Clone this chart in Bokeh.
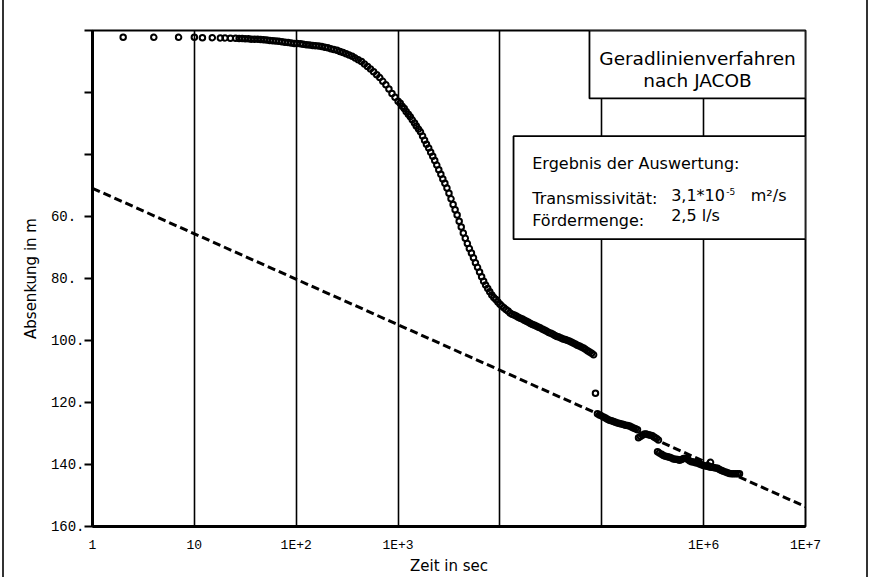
from bokeh.plotting import figure
from bokeh.models import Range1d, FixedTicker, BoxAnnotation, Label
from bokeh.embed import file_html
from bokeh.resources import INLINE

# ---------------- data (time in s, drawdown in m) ----------------
time_phase1 = [2, 4, 7, 10, 12, 15, 18, 20, 22.6, 25.4,
               27.5, 29.5, 31.6, 33.9, 36.3, 38.9, 41.7, 44.7, 47.9, 51.3,
               55.0, 58.9, 63.1, 67.6, 72.4, 77.6, 83.2, 89.1, 95.5, 102,
               110, 117, 126, 135, 145, 155, 166, 178, 191, 204,
               219, 234, 251, 269, 288, 309, 331, 355, 380, 407,
               437, 468, 501, 537, 575, 617, 661, 708, 759, 813,
               871, 933, 1000,
               1050, 1100, 1150, 1200, 1260, 1320, 1380, 1450, 1510, 1590,
               1660, 1740, 1820, 1900, 2000, 2090, 2190, 2290, 2400, 2510,
               2630, 2750, 2880, 3020, 3160, 3310, 3470, 3630, 3800, 3980,
               4170, 4370, 4570, 4790, 5010, 5250, 5500, 5750, 6030, 6310,
               6610, 6920, 7240, 7590, 7940, 8320, 8710, 9120, 9550, 10000,
               10470, 10960, 11480, 12020, 12590, 13180, 13800, 14450, 15140, 15850,
               16600, 17380, 18200, 19050, 19950, 20890, 21880, 22910, 23990, 25120,
               26300, 27540, 28840, 30200, 31620, 33110, 34670, 36310, 38020, 39810,
               41690, 43650, 45710, 47860, 50120, 52480, 54950, 57540, 60260, 63100,
               66070, 69180, 72440, 75860, 79430, 83180]
drawdown_phase1 = [2.2, 2.2, 2.2, 2.2, 2.3, 2.3, 2.4, 2.4, 2.5, 2.5,
                   2.6, 2.6, 2.7, 2.7, 2.8, 2.8, 2.8, 2.9, 3.0, 3.1,
                   3.2, 3.3, 3.4, 3.5, 3.6, 3.8, 3.9, 4.0, 4.2, 4.2,
                   4.3, 4.4, 4.6, 4.7, 4.8, 4.9, 5.0, 5.2, 5.4, 5.6,
                   5.9, 6.1, 6.4, 6.8, 7.1, 7.5, 7.9, 8.3, 8.9, 9.4,
                   10.0, 10.8, 11.6, 12.4, 13.3, 14.3, 15.2, 16.4, 17.5, 18.9,
                   20.3, 21.5, 22.8,
                   23.5, 24.4, 25.2, 26.1, 27.0, 27.8, 28.8, 29.8, 30.8, 31.8,
                   32.7, 34.0, 35.4, 36.7, 37.9, 39.3, 40.6, 41.9, 43.4, 44.9,
                   46.4, 47.9, 49.3, 50.8, 52.5, 54.3, 56.1, 57.8, 59.5, 61.5,
                   63.4, 65.3, 67.0, 68.7, 70.3, 71.8, 73.3, 74.9, 76.4, 77.9,
                   79.4, 80.9, 82.1, 83.2, 84.3, 85.3, 86.1, 86.8, 87.6, 88.3,
                   88.9, 89.4, 90.0, 90.5, 91.1, 91.5, 91.8, 92.1, 92.5, 92.8,
                   93.1, 93.5, 93.8, 94.1, 94.5, 94.8, 95.1, 95.4, 95.7, 96.0,
                   96.4, 96.7, 97.0, 97.4, 97.7, 98.0, 98.4, 98.7, 98.9, 99.2,
                   99.5, 99.7, 99.9, 100.2, 100.5, 100.8, 101.1, 101.5, 101.8, 102.1,
                   102.4, 102.8, 103.3, 103.7, 104.1, 104.6]

time_jump = [86700]
drawdown_jump = [117.0]

time_phase2 = [90700, 94900, 99300, 103900, 108700, 113700, 119000, 124500, 130300, 136300,
               142600, 149200, 156100, 163300, 170900, 178800, 187100, 195700, 204800, 214300,
               224200,
               229400, 239900, 251000, 262600, 274700, 287400, 300700, 314600, 329100, 344300,
               360200,
               352700, 368600, 386400, 403600, 422700, 442600, 462400, 484200, 505800, 529700,
               554600, 579400, 606700, 635300, 663700, 695000, 727800, 760300, 796200, 833700,
               871000, 912000, 952800, 997700, 1045000, 1091000, 1143000, 1169000, 1194000, 1250000,
               1309000, 1368000, 1432000, 1500000, 1567000, 1641000, 1714000, 1795000, 1879000, 1963000,
               2056000, 2153000, 2249000]
drawdown_phase2 = [123.6, 124.0, 124.3, 124.7, 125.0, 125.4, 125.7, 125.9, 126.1, 126.4,
                   126.6, 126.8, 126.9, 127.1, 127.3, 127.4, 127.6, 127.9, 128.2, 128.5,
                   128.8,
                   131.4, 131.0, 130.6, 130.2, 130.2, 130.4, 130.6, 130.7, 131.2, 131.6,
                   132.1,
                   135.9, 136.3, 136.7, 137.1, 137.3, 137.5, 137.7, 137.9, 138.2, 138.3,
                   138.4, 138.6, 138.4, 138.1, 138.0, 138.3, 138.8, 139.1, 139.2, 139.4,
                   139.5, 139.8, 140.1, 140.3, 140.5, 140.6, 140.8, 139.3, 140.9, 141.0,
                   141.1, 141.2, 141.6, 141.9, 142.2, 142.4, 142.7, 142.9, 143.0, 143.0,
                   143.0, 143.0, 143.0]

fit_time = [1, 1e7]
fit_drawdown = [50.9, 153.6]

x_ticks = [1, 10, 100, 1000, 10000, 100000, 1000000, 10000000]
x_tick_labels = ["1", "10", "1E+2", "1E+3", "", "", "1E+6", "1E+7"]
y_ticks = [0, 20, 40, 60, 80, 100, 120, 140, 160]
y_tick_labels = ["", "", "", " 60.", " 80.", "100.", "120.", "140.", "160."]

title_lines = ["Geradlinienverfahren", "nach JACOB"]
result_title = "Ergebnis der Auswertung:"
result_names = ["Transmissivität:", "Fördermenge:"]
result_values = ["3,1*10", "2,5 l/s"]
result_exponent = "-5"
result_unit = "m²/s"

# ---------------- figure ----------------
SANS = "DejaVu Sans"
MONO = "Liberation Mono"

p = figure(width=866, height=577, x_axis_type="log",
           x_range=Range1d(1, 1e7), y_range=Range1d(160, 0),
           output_backend="svg", toolbar_location=None,
           min_border_left=88, min_border_right=65,
           min_border_top=30, min_border_bottom=50,
           background_fill_color="white", border_fill_color="white")
p.styles = {"margin-left": "2px",
            "border-left": "2px solid #333333",
            "border-right": "2px solid #333333"}

p.outline_line_color = "black"
p.outline_line_width = 2

# x axis
p.xaxis.ticker = FixedTicker(ticks=x_ticks, minor_ticks=[])
p.xaxis.major_label_overrides = {t: l for t, l in zip(x_ticks, x_tick_labels)}
p.xaxis.major_tick_out = 0
p.xaxis.major_tick_in = 0
p.xaxis.minor_tick_out = 0
p.xaxis.minor_tick_in = 0
p.xaxis.axis_line_width = 3
p.xaxis.axis_line_color = "black"
p.xaxis.major_label_text_font = MONO
p.xaxis.major_label_text_font_size = "13px"
p.xaxis.major_label_text_color = "black"
p.xaxis.major_label_standoff = 11
p.xaxis.axis_label = "Zeit in sec"
p.xaxis.axis_label_text_font = SANS
p.xaxis.axis_label_text_font_size = "15px"
p.xaxis.axis_label_text_font_style = "normal"
p.xaxis.axis_label_text_color = "black"
p.xaxis.axis_label_standoff = 1

# y axis
p.yaxis.ticker = FixedTicker(ticks=y_ticks, minor_ticks=[])
p.yaxis.major_label_overrides = {t: l for t, l in zip(y_ticks, y_tick_labels)}
p.yaxis.major_tick_out = 8
p.yaxis.major_tick_in = 0
p.yaxis.major_tick_line_width = 2
p.yaxis.major_tick_line_color = "black"
p.yaxis.minor_tick_out = 0
p.yaxis.minor_tick_in = 0
p.yaxis.axis_line_width = 3
p.yaxis.axis_line_color = "black"
p.yaxis.major_label_text_font = MONO
p.yaxis.major_label_text_font_size = "14px"
p.yaxis.major_label_text_color = "black"
p.yaxis.major_label_standoff = 0
p.yaxis.axis_label = "Absenkung in m"
p.yaxis.axis_label_text_font = SANS
p.yaxis.axis_label_text_font_size = "15px"
p.yaxis.axis_label_text_font_style = "normal"
p.yaxis.axis_label_text_color = "black"
p.yaxis.axis_label_standoff = 8

# grid: vertical lines at each decade
p.xgrid.ticker = FixedTicker(ticks=x_ticks, minor_ticks=[])
p.xgrid.grid_line_color = "black"
p.xgrid.grid_line_width = 1.6
p.xgrid.grid_line_alpha = 1
p.ygrid.grid_line_color = None

# fitted straight line (Jacob)
p.line(fit_time, fit_drawdown, line_color="black", line_width=3, line_dash="8 4")

# measured drawdown
marker_style = dict(marker="circle", size=5.5, line_color="black", line_width=2,
                    fill_color=None)
p.scatter(time_phase1, drawdown_phase1, **marker_style)
p.scatter(time_jump, drawdown_jump, **marker_style)
p.scatter(time_phase2, drawdown_phase2, **marker_style)

# text boxes
box_style = dict(fill_color="white", fill_alpha=1.0, line_color="black",
                 line_alpha=1.0, line_width=1.8)
p.add_layout(BoxAnnotation(left=75700, right=1e7, top=0, bottom=21.9, **box_style))
p.add_layout(BoxAnnotation(left=13600, right=1e7, top=34.1, bottom=67.3, **box_style))

def add_text(x, y, text, size, align="left", **kw):
    p.add_layout(Label(x=x, y=y, text=text, text_align=align, text_baseline="middle",
                       text_font=SANS, text_font_size=size, text_color="black", **kw))

add_text(871000, 9.0, title_lines[0], "18.5px", align="center")
add_text(871000, 16.1, title_lines[1], "18.5px", align="center")

add_text(20750, 42.8, result_title, "16px")
add_text(20750, 54.1, result_names[0], "16px")
add_text(20750, 61.2, result_names[1], "16px")
add_text(480000, 53.1, result_values[0], "16px")
add_text(480000, 59.6, result_values[1], "16px")
add_text(1670000, 52.0, result_exponent, "9px")
add_text(2900000, 53.1, result_unit, "16px")

open("out.html", "w").write(file_html(p, INLINE))
